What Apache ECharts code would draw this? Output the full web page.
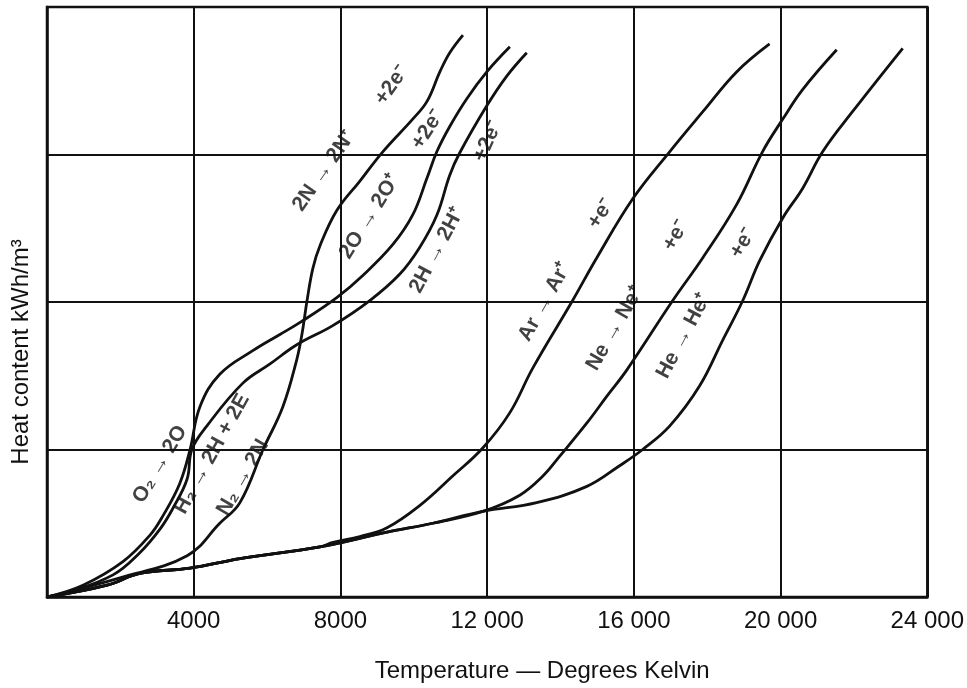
<!DOCTYPE html>
<html>
<head>
<meta charset="utf-8">
<script src="https://cdn.jsdelivr.net/npm/echarts@6/dist/echarts.min.js"></script>
<style>
html, body { margin: 0; padding: 0; background: #fff; }
#main { width: 967px; height: 688px; }
</style>
</head>
<body>
<div id="main"></div>
<script>
// values: temperature in K, heat content in grid units (4 rows)
var n2X = [0, 1990, 3820, 4710, 5260, 5890, 6430, 6810, 6950, 7090, 7250, 7440, 7900, 8530, 9160, 9970, 10360, 10710, 10980, 11340];
var n2Y = [0, 0.13, 0.28, 0.50, 0.64, 1.00, 1.29, 1.61, 1.78, 2.01, 2.23, 2.38, 2.62, 2.82, 3.02, 3.24, 3.36, 3.56, 3.69, 3.81];

var o2X = [0, 980, 2070, 2810, 3160, 3620, 3900, 4170, 4710, 5610, 6350, 6890, 7900, 8610, 9430, 9970, 10360, 10630, 10980, 11450, 11990, 12620];
var o2Y = [0, 0.08, 0.24, 0.42, 0.55, 0.77, 1.00, 1.29, 1.51, 1.67, 1.78, 1.86, 2.03, 2.18, 2.39, 2.59, 2.84, 3.02, 3.19, 3.38, 3.56, 3.73];

var h2X = [0, 545, 1800, 2530, 3080, 3430, 3820, 3950, 4360, 5340, 6080, 6810, 7790, 8800, 9620, 10160, 10630, 10980, 11250, 11990, 12530, 13080];
var h2Y = [0, 0.03, 0.15, 0.30, 0.46, 0.60, 0.80, 1.00, 1.16, 1.45, 1.58, 1.71, 1.84, 2.01, 2.19, 2.37, 2.59, 2.86, 3.01, 3.33, 3.53, 3.69];

var arX = [0, 1640, 2530, 3900, 5260, 7440, 7800, 8530, 9270, 10160, 11060, 11880, 12620, 13240, 14330, 14990, 15970, 16980, 17880, 18800, 19700];
var arY = [0, 0.08, 0.16, 0.195, 0.26, 0.34, 0.37, 0.41, 0.47, 0.62, 0.82, 1.01, 1.25, 1.55, 2.01, 2.30, 2.70, 3.02, 3.29, 3.56, 3.75];

var neX = [0, 1640, 2530, 3900, 5260, 7440, 9270, 10520, 11880, 12890, 13520, 13980, 14720, 15260, 15810, 17060, 17880, 18800, 19510, 20060, 20600, 21530];
var neY = [0, 0.08, 0.16, 0.195, 0.26, 0.34, 0.44, 0.50, 0.58, 0.69, 0.82, 0.955, 1.18, 1.36, 1.54, 2.01, 2.30, 2.66, 3.02, 3.24, 3.44, 3.71];

var heX = [0, 1640, 2530, 3900, 5260, 7440, 9270, 10520, 11880, 13350, 14720, 15610, 16240, 16980, 17790, 18420, 18970, 19430, 20060, 20600, 21150, 21960, 23330];
var heY = [0, 0.08, 0.16, 0.195, 0.26, 0.34, 0.44, 0.50, 0.58, 0.64, 0.75, 0.89, 1.00, 1.16, 1.43, 1.74, 2.01, 2.28, 2.57, 2.77, 3.02, 3.29, 3.72];

// reaction labels written along the curves
var noteText = ['2N \u2192 2N\u207A', '+2e\u207B', '2O \u2192 2O\u207A', '+2e\u207B', '2H \u2192 2H\u207A', '+2e\u207B',
    'O\u2082 \u2192 2O', 'H\u2082 \u2192 2H + 2E', 'N\u2082 \u2192 2N',
    'Ar \u2192 Ar\u207A', '+e\u207B', 'Ne \u2192 Ne\u207A', '+e\u207B', 'He \u2192 He\u207A', '+e\u207B'];
var noteX = [7550, 9400, 8800, 10380, 10630, 12020, 3080, 4500, 5340, 13570, 15100, 15480, 17140, 17360, 18970];
var noteY = [2.89, 3.47, 2.58, 3.17, 2.35, 3.09, 0.90, 0.97, 0.81, 2.00, 2.60, 1.82, 2.45, 1.77, 2.40];
var noteAngle = [55, 55, 58, 57, 62, 66, 59, 61, 60, 61, 57, 60, 60, 62, 60];

var xTickLabels = ['', '4000', '8000', '12 000', '16 000', '20 000', '24 000'];

function zip(xs, ys) {
    var out = [];
    for (var i = 0; i < xs.length; i++) {
        out.push([xs[i], ys[i]]);
    }
    return out;
}

function curve(name, xs, ys) {
    return {
        name: name,
        type: 'line',
        data: zip(xs, ys),
        smooth: 0.4,
        symbol: 'none',
        lineStyle: { color: '#111', width: 2.8 },
        z: 3
    };
}

var notes = [];
for (var i = 0; i < noteText.length; i++) {
    notes.push({
        value: [noteX[i], noteY[i]],
        label: { rotate: noteAngle[i], formatter: noteText[i] }
    });
}

var chart = echarts.init(document.getElementById('main'));

var option = {
    backgroundColor: '#fff',
    animation: false,
    grid: {
        left: 47, right: 39, top: 7, bottom: 86,
        show: true, borderColor: '#111', borderWidth: 2.5
    },
    xAxis: {
        type: 'value',
        min: 0, max: 24000, interval: 4000,
        name: 'Temperature \u2014 Degrees Kelvin',
        nameLocation: 'middle',
        nameGap: 62,
        nameTextStyle: { color: '#111', fontSize: 24, fontFamily: 'Liberation Sans', padding: [0, 0, 0, 110] },
        axisLine: { show: true, lineStyle: { color: '#111', width: 2.5 } },
        axisTick: { show: false },
        axisLabel: {
            color: '#111', fontSize: 24, fontFamily: 'Liberation Sans', margin: 12,
            showMaxLabel: true,
            formatter: function (v) { return xTickLabels[Math.round(v / 4000)]; }
        },
        splitLine: { show: true, lineStyle: { color: '#111', width: 2 } }
    },
    yAxis: {
        type: 'value',
        min: 0, max: 4, interval: 1,
        name: 'Heat content kWh/m\u00B3',
        nameLocation: 'middle',
        nameGap: 14,
        nameTextStyle: { color: '#111', fontSize: 24, fontFamily: 'Liberation Sans', padding: [0, 100, 0, 0] },
        axisLine: { show: true, lineStyle: { color: '#111', width: 2.5 } },
        axisTick: { show: false },
        axisLabel: { show: false },
        splitLine: { show: true, lineStyle: { color: '#111', width: 2 } }
    },
    series: [
        curve('N2', n2X, n2Y),
        curve('O2', o2X, o2Y),
        curve('H2', h2X, h2Y),
        curve('Ar', arX, arY),
        curve('Ne', neX, neY),
        curve('He', heX, heY),
        {
            name: 'notes',
            type: 'scatter',
            symbolSize: 0,
            silent: true,
            z: 5,
            label: {
                show: true,
                position: 'inside',
                color: '#111',
                fontSize: 21,
                fontWeight: 'bold',
                fontFamily: 'Liberation Sans'
            },
            data: notes
        }
    ]
};

chart.setOption(option);
</script>
</body>
</html>
